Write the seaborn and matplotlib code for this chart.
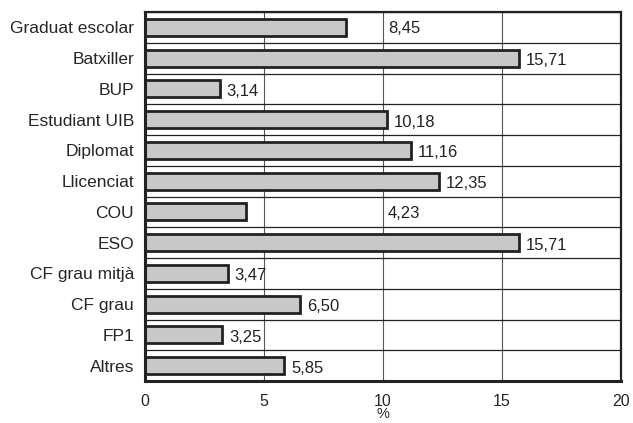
import matplotlib
matplotlib.use("Agg")
import matplotlib.pyplot as plt
import seaborn as sns
import pandas as pd
import numpy as np

categories = ["Graduat escolar", "Batxiller", "BUP", "Estudiant UIB", "Diplomat",
              "Llicenciat", "COU", "ESO", "CF grau mitjà", "CF grau", "FP1", "Altres"]
values = [8.45, 15.71, 3.14, 10.18, 11.16, 12.35, 4.23, 15.71, 3.47, 6.50, 3.25, 5.85]
value_labels = ["8,45", "15,71", "3,14", "10,18", "11,16", "12,35", "4,23",
                "15,71", "3,47", "6,50", "3,25", "5,85"]
x_ticks = [0, 5, 10, 15, 20]

# label anchor overrides (data units) for labels not placed right after the bar
label_x_override = {0: 10.2, 6: 10.2}

sns.set_theme(style="white")
plt.rcParams['font.family'] = ['Liberation Sans', 'DejaVu Sans']

df = pd.DataFrame({"cat": categories, "val": values})

fig = plt.figure(figsize=(6.33, 4.23), dpi=100)
ax = fig.add_axes([145/633, 1-381/423, (621-145)/633, (381-12)/423])

sns.barplot(data=df, x="val", y="cat", orient="h", color="#c8c8c8",
            edgecolor="#222222", linewidth=2.0, width=0.55, saturation=1, ax=ax)

n = len(categories)
ax.set_xlim(0, 20)
ax.set_ylim(n - 0.5, -0.5)
ax.set_xticks(x_ticks)
ax.set_xticklabels([str(t) for t in x_ticks], fontsize=11.5)

# vertical grid lines
for t in x_ticks[1:-1]:
    ax.axvline(t, color="#555555", lw=0.8, zorder=0)
# category boundary lines
for b in np.arange(-0.5, n, 1.0):
    ax.axhline(b, color="#222222", lw=0.9, zorder=0)

ax.set_yticks(range(n))
ax.set_yticklabels(categories, fontsize=12.5)
ax.tick_params(axis="y", length=0, pad=8)
# boundary ticks on y
ax.set_yticks(np.arange(-0.5, n, 1.0), minor=True)
ax.tick_params(axis="y", which="minor", length=6, width=1.2, direction="out", color="#222222")
ax.tick_params(axis="x", length=5, width=1.2, direction="out", color="#222222", pad=4)

for s in ax.spines.values():
    s.set_color("#222222")
    s.set_linewidth(1.6)
    s.set_visible(True)
ax.spines["left"].set_linewidth(2.2)
ax.spines["bottom"].set_linewidth(2.2)

ax.set_ylabel("")
ax.set_xlabel("%", fontsize=10.5, labelpad=-1)

for i, (v, lab) in enumerate(zip(values, value_labels)):
    if i in label_x_override:
        ax.text(label_x_override[i], i + 0.05, lab, va="center", ha="left", fontsize=12, color="#222222")
    else:
        ax.annotate(lab, xy=(v, i + 0.08), xytext=(5, 0), textcoords="offset points",
                    va="center", ha="left", fontsize=12, color="#222222")

fig.savefig("out.png", dpi=100)
